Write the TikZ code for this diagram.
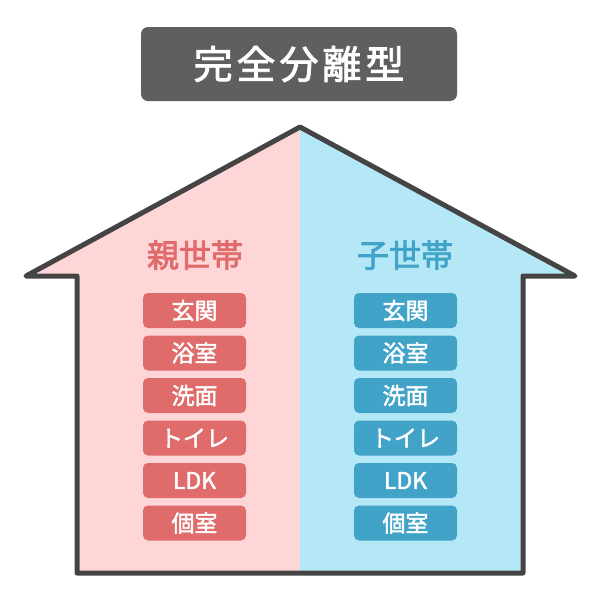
\documentclass[tikz,border=0pt]{standalone}
\usepackage{fontspec}
\newfontfamily\jp{Noto Sans CJK JP}
\newfontfamily\jpm[FakeBold=2]{Noto Sans CJK JP}
\newfontfamily\jph[FakeBold=2.5]{Noto Sans CJK JP}
\definecolor{pinkbg}{HTML}{FFD6D7}
\definecolor{bluebg}{HTML}{B5E8F6}
\definecolor{redbox}{HTML}{E06B6B}
\definecolor{bluebox}{HTML}{41A3C8}
\definecolor{titlebg}{HTML}{5F5F5F}
\definecolor{outline}{HTML}{444444}
\tikzset{
  room/.style={rounded corners=5pt, minimum width=103pt, minimum height=35pt, inner sep=0pt, text=white, font=\jpm\fontsize{23}{23}\selectfont},
  redroom/.style={room, fill=redbox},
  blueroom/.style={room, fill=bluebox},
  heading/.style={font=\jph\fontsize{32}{32}\selectfont, inner sep=0pt},
}
\begin{document}
\begin{tikzpicture}[x=1pt,y=-1pt]
\useasboundingbox (0,0) rectangle (600,600);
\fill[white] (0,0) rectangle (600,600);
% title
\node[fill=titlebg, rounded corners=7pt, minimum width=316pt, minimum height=74pt, inner sep=0pt, text=white, font=\jpm\fontsize{39}{39}\selectfont] (title) at (299,64) {\addfontfeature{LetterSpace=10}完全分離型\hspace{-3.9pt}};
% house halves
\fill[pinkbg] (26,276) -- (300,127) -- (300,573) -- (77,573) -- (77,276) -- cycle;
\fill[bluebg] (300,127) -- (575,276) -- (523,276) -- (523,573) -- (300,573) -- cycle;
\draw[outline, line width=5pt, line join=round, line cap=round] (26,276) -- (300,127) -- (575,276) -- (523,276) -- (523,573) -- (77,573) -- (77,276) -- cycle;
% headings
\node[heading, text=redbox] (oya) at (195,255) {親世帯};
\node[heading, text=bluebox] (ko) at (405,255) {子世帯};
% rooms
\foreach \t [count=\i] in {玄関,浴室,洗面,トイレ,LDK,個室} {
  \node[redroom] (l\i) at (194.5,{268+42.5*\i}) {\t};
  \node[blueroom] (r\i) at (405.5,{268+42.5*\i}) {\t};
}
\end{tikzpicture}
\end{document}
